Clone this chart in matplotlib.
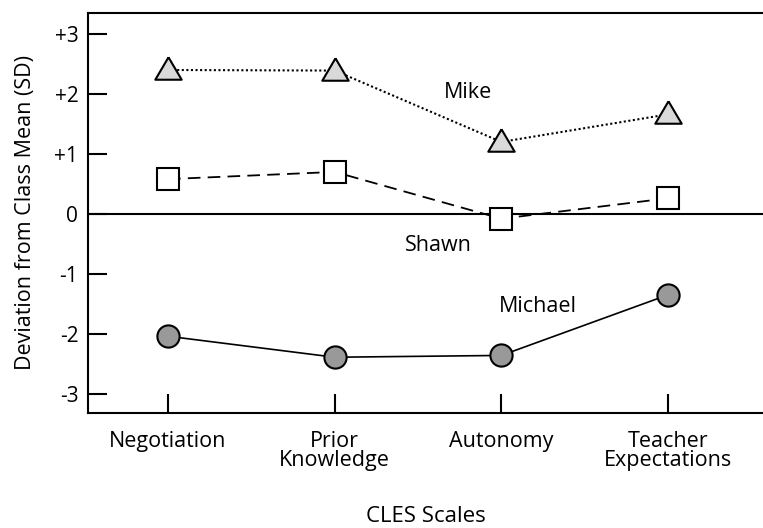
import matplotlib
matplotlib.use('Agg')
import matplotlib.pyplot as plt

scales = ['Negotiation', 'Prior\nKnowledge', 'Autonomy', 'Teacher\nExpectations']
mike = [2.40, 2.39, 1.20, 1.66]
shawn = [0.58, 0.70, -0.08, 0.26]
michael = [-2.04, -2.39, -2.36, -1.35]
y_ticks = [3, 2, 1, 0, -1, -2, -3]
y_tick_labels = ['+3', '+2', '+1', '0', '-1', '-2', '-3']

TRIANGLE = [(0, 1), (-1, -0.7), (1, -0.7), (0, 1)]


def main() -> None:
    plt.rcParams['font.family'] = ['Open Sans', 'DejaVu Sans']
    fig = plt.figure(figsize=(7.63, 5.28), dpi=100)
    ax = fig.add_axes([88 / 763, 115 / 528, 675 / 763, 400 / 528])

    xs = range(len(scales))
    ax.axhline(0, color='black', lw=1.5, zorder=1)
    ax.plot(xs, michael, '-', color='black', lw=1.2, marker='o', ms=16,
            mfc='#999999', mec='black', mew=1.5, zorder=3)
    ax.plot(xs, shawn, color='black', lw=1.3, ls=(0, (7, 4)), marker='s', ms=15.5,
            mfc='white', mec='black', mew=1.5, zorder=3)
    ax.plot(xs, mike, color='black', lw=1.5, ls=(0, (1, 1.2)), marker=TRIANGLE, ms=19,
            mfc='#d9d9d9', mec='black', mew=1.5, zorder=3)

    ax.text(1.80, 2.03, 'Mike', ha='center', va='center', fontsize=15.5)
    ax.text(1.62, -0.53, 'Shawn', ha='center', va='center', fontsize=15.5)
    ax.text(2.22, -1.55, 'Michael', ha='center', va='center', fontsize=15.5)

    ax.set_xlim(-0.48, 3.57)
    ax.set_ylim(-3.32, 3.35)
    ax.set_xticks(list(xs))
    ax.set_xticklabels(scales, fontsize=15.5, linespacing=0.9)
    ax.set_yticks(y_ticks)
    ax.set_yticklabels(y_tick_labels, fontsize=15)
    ax.tick_params(direction='in', length=14, width=1.5, pad=7)
    ax.tick_params(axis='x', pad=13)

    ax.spines['right'].set_visible(False)
    for s in ('left', 'bottom', 'top'):
        ax.spines[s].set_linewidth(1.5)

    ax.set_ylabel('Deviation from Class Mean (SD)', fontsize=15.5, labelpad=13)
    ax.set_xlabel('CLES Scales', fontsize=16, labelpad=25)

    fig.savefig('out.png', dpi=100)


if __name__ == '__main__':
    main()
